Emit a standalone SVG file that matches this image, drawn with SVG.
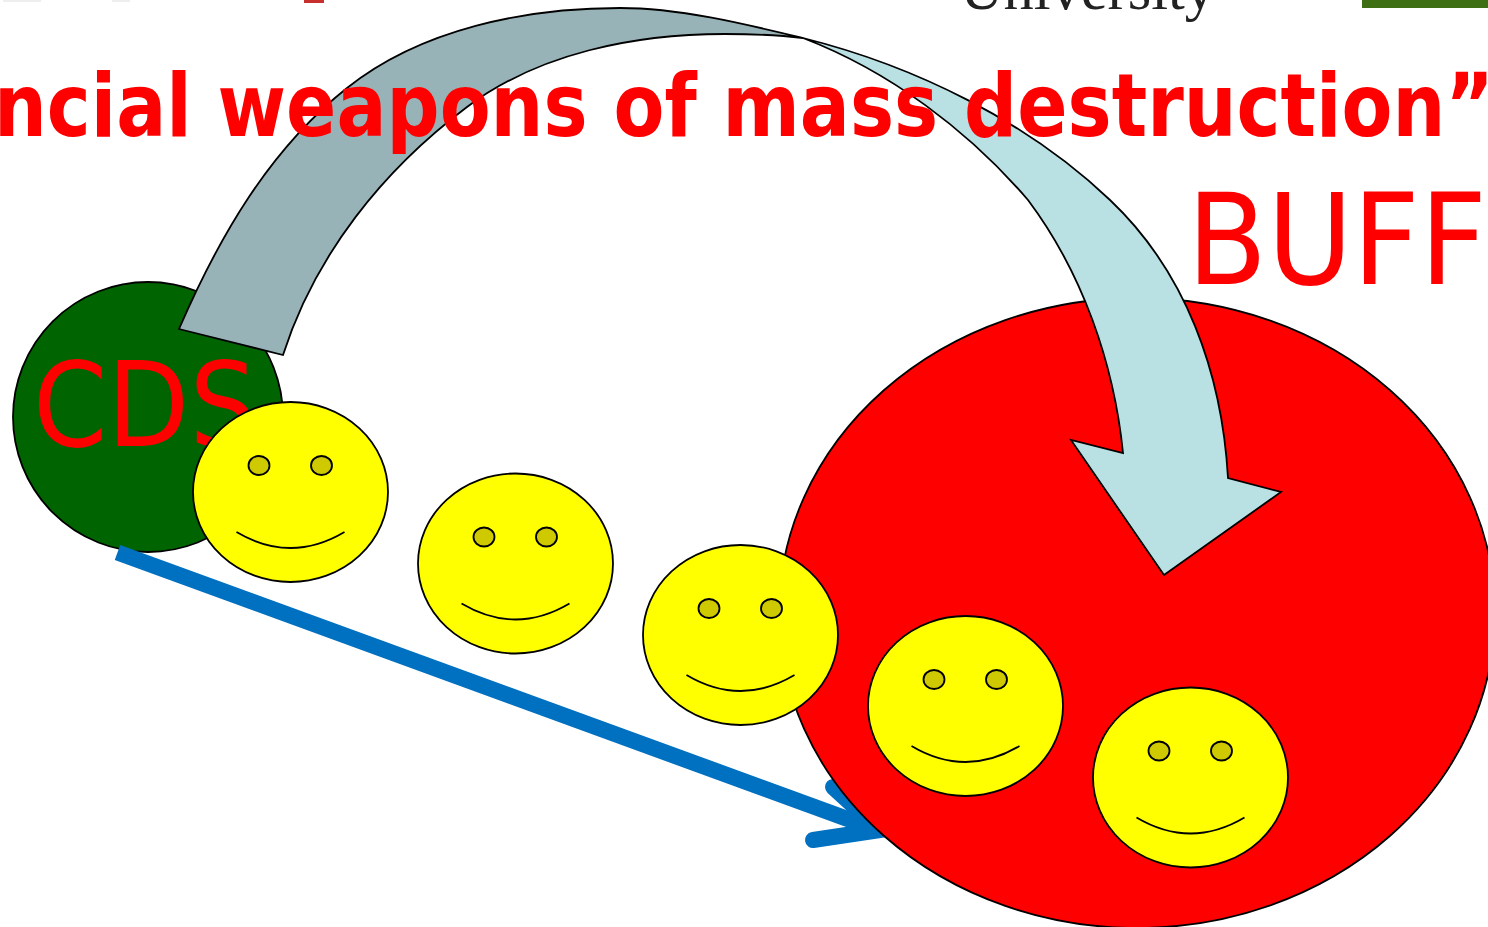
<svg xmlns="http://www.w3.org/2000/svg" width="1488" height="927" viewBox="0 0 1488 927">
<defs>
<style>
.o{stroke:#000;stroke-width:1.8}
.t{fill:#f00;font-family:"DejaVu Sans",sans-serif}
.e{fill:#cfca00;stroke:#000;stroke-width:1.8}
.m{fill:none;stroke:#000;stroke-width:1.8}
.b{fill:none;stroke:#0070c0;stroke-width:16}
</style>
<g id="face">
<ellipse cx="0" cy="0" rx="97.500" ry="90" fill="#ff0" class="o"/>
<ellipse class="e" cx="-31.500" cy="-26.500" rx="10.500" ry="9.500"/>
<ellipse class="e" cx="31" cy="-26.500" rx="10.500" ry="9.500"/>
<path class="m" d="M-54 40Q0 72 54 40"/>
</g>
</defs>
<rect width="1488" height="927" fill="#fff"/>
<rect x="3" y="0" width="38" height="2" fill="#eee"/>
<rect x="112" y="0" width="18" height="2" fill="#eee"/>
<rect x="304" y="0" width="20" height="3" fill="#c83030"/>
<rect x="1362" y="0" width="126" height="8" fill="#3f6f14"/>
<text x="960" y="9" font-family="Liberation Serif,serif" font-size="62" fill="#222" textLength="255" lengthAdjust="spacingAndGlyphs">University</text>
<g id="cds-node"><circle class="o" cx="148" cy="417" r="135" fill="#006400"/>
<text class="t" x="33" y="446" font-size="117" textLength="224" lengthAdjust="spacingAndGlyphs">CDS</text></g>
<g id="connectors">
<path class="b" d="M117.500 552.500L875 829"/>
<path class="b" stroke-linecap="round" d="M833 787L880 830L813 840"/>
</g>
<g id="buff-node"><ellipse class="o" cx="1137" cy="613" rx="358" ry="315" fill="#f00"/></g>
<g id="connectors-arcs">
<path class="o" fill="#98b3b7" d="M179 329C219 237 269 150 347 88C421 29 525 8 620 8C680 8 745 24 803 38C778 35 752 34 725 34C635 34 539 53 467 107C383 170 315 255 283 355Z"/>
<path class="o" fill="#b9e0e3" d="M803 38C915 66 1027 121 1110 200C1186 272 1222 373 1228 478L1281 492L1164 575L1071 440L1123 453C1114 363 1082 272 1028 200C968 130 889 71 803 38Z"/>
</g>
<text class="t" x="-6" y="136" font-size="87" font-weight="700" textLength="1500" lengthAdjust="spacingAndGlyphs">ncial weapons of mass destruction”</text>
<text class="t" x="1187" y="284" font-size="127" textLength="300" lengthAdjust="spacingAndGlyphs">BUFF</text>
<use id="face-1" href="#face" x="290.500" y="492"/>
<use id="face-2" href="#face" x="515.500" y="563.500"/>
<use id="face-3" href="#face" x="740.500" y="635"/>
<use id="face-4" href="#face" x="965.500" y="706"/>
<use id="face-5" href="#face" x="1190.500" y="777.500"/>
</svg>
